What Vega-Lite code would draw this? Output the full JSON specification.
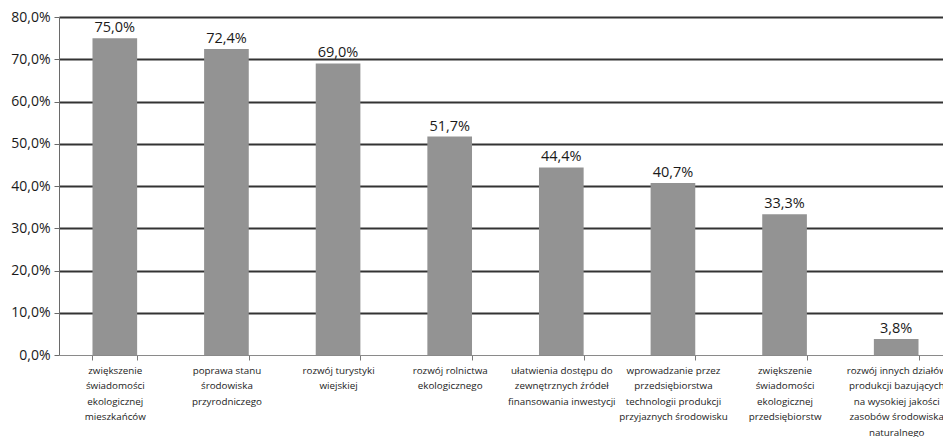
{
  "$schema": "https://vega.github.io/schema/vega-lite/v6.json",
  "autosize": {"type": "none"},
  "padding": {"left": 59, "top": 17, "right": 0, "bottom": 82},
  "width": 884,
  "height": 338,
  "background": "white",
  "config": {
    "view": {"stroke": null},
    "font": "Open Sans",
    "locale": {
      "number": {"decimal": ",", "thousands": " ", "grouping": [3], "currency": ["", " zł"]}
    }
  },
  "data": {
    "values": [
      {"kat": "zwiększenie|świadomości|ekologicznej|mieszkańców", "wartosc": 0.750},
      {"kat": "poprawa stanu|środowiska|przyrodniczego", "wartosc": 0.724},
      {"kat": "rozwój turystyki|wiejskiej", "wartosc": 0.690},
      {"kat": "rozwój rolnictwa|ekologicznego", "wartosc": 0.517},
      {"kat": "ułatwienia dostępu do|zewnętrznych źródeł|finansowania inwestycji", "wartosc": 0.444},
      {"kat": "wprowadzanie przez|przedsiębiorstwa|technologii produkcji|przyjaznych środowisku", "wartosc": 0.407},
      {"kat": "zwiększenie |świadomości|ekologicznej|przedsiębiorstw", "wartosc": 0.333},
      {"kat": "rozwój innych działów|produkcji bazujących|na wysokiej jakości|zasobów środowiska|naturalnego", "wartosc": 0.038}
    ]
  },
  "encoding": {
    "x": {
      "field": "kat",
      "type": "nominal",
      "sort": null,
      "scale": {"range": [0, 893], "paddingInner": 0.6, "paddingOuter": 0.3},
      "axis": {
        "title": null,
        "labelAngle": 0,
        "labelExpr": "split(datum.label, '|')",
        "labelFont": "Open Sans",
        "labelFontSize": 9.8,
        "labelLineHeight": 15.5,
        "labelColor": "#222222",
        "labelPadding": 5,
        "labelLimit": 200,
        "tickBand": "extent",
        "tickSize": 5,
        "tickColor": "#7a7a7a",
        "domainColor": "#8a8a8a",
        "domainWidth": 1,
        "grid": false,
        "zindex": 1
      }
    },
    "y": {
      "field": "wartosc",
      "type": "quantitative",
      "scale": {"domain": [0, 0.8], "nice": false},
      "axis": {
        "title": null,
        "values": [0, 0.1, 0.2, 0.3, 0.4, 0.5, 0.6, 0.7, 0.8],
        "format": ".1%",
        "labelFont": "Open Sans",
        "labelFontSize": 14,
        "labelColor": "#1a1a1a",
        "labelPadding": 4,
        "tickSize": 5,
        "tickColor": "#6a6a6a",
        "domainColor": "#6a6a6a",
        "grid": true,
        "gridColor": {"condition": {"test": "datum.value === 0", "value": "#8a8a8a"}, "value": "#333333"},
        "gridWidth": {"condition": {"test": "datum.value === 0", "value": 1}, "value": 1.8}
      }
    }
  },
  "layer": [
    {
      "mark": {"type": "bar", "color": "#939393"}
    },
    {
      "mark": {"type": "text", "baseline": "bottom", "dy": -3, "fontSize": 14.5, "font": "Open Sans", "color": "#1a1a1a"},
      "encoding": {
        "text": {"field": "wartosc", "type": "quantitative", "format": ".1%"}
      }
    }
  ]
}
